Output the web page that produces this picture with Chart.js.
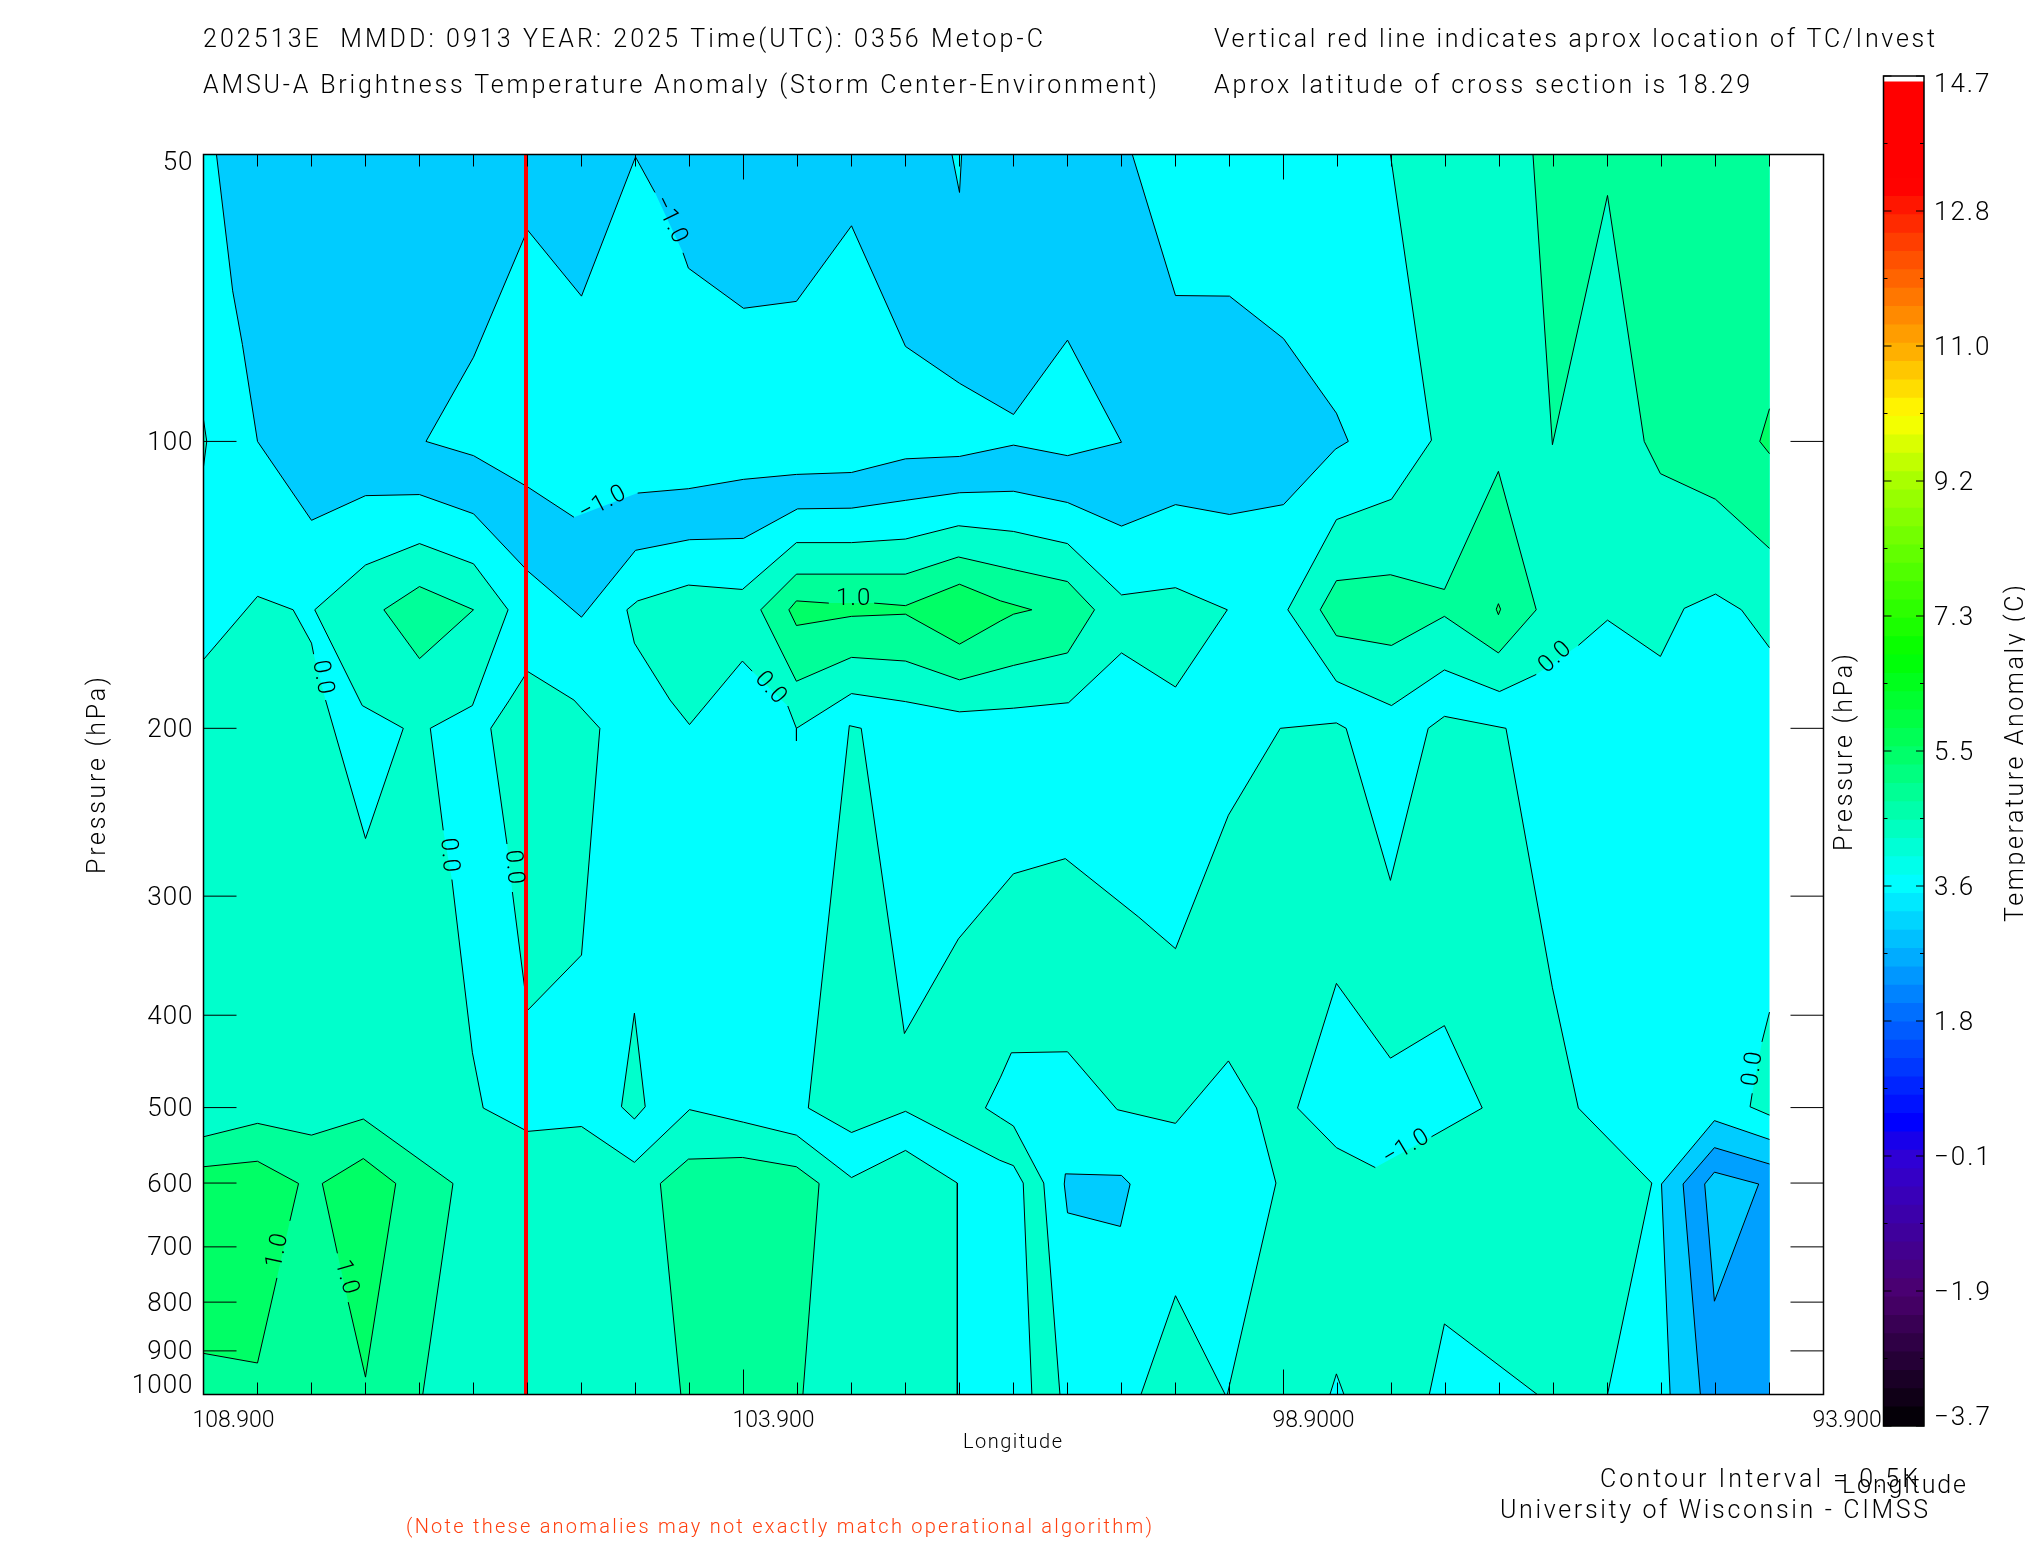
<!DOCTYPE html>
<html>
<head>
<meta charset="utf-8">
<title>AMSU-A Brightness Temperature Anomaly</title>
<script src="https://cdn.jsdelivr.net/npm/chart.js@4/dist/chart.umd.min.js"></script>
<style>
  html, body { margin: 0; padding: 0; background: #fff; }
  #wrap { position: relative; width: 2025px; height: 1550px; overflow: hidden; }
  canvas { position: absolute; left: 0; top: 0; }
</style>
</head>
<body>
<div id="wrap">
  <canvas id="section" width="2025" height="1550"></canvas>
  <canvas id="scalebar" width="2025" height="1550"></canvas>
</div>
<script>
// axes
const lonTicks = [108.9, 108.4, 107.9, 107.4, 106.9, 106.4, 105.9, 105.4, 104.9, 104.4, 103.9, 103.4, 102.9, 102.4, 101.9, 101.4,
  100.9, 100.4, 99.9, 99.4, 98.9, 98.4, 97.9, 97.4, 96.9, 96.4, 95.9, 95.4, 94.9, 94.4, 93.9];
const lonMajor = [108.9, 103.9, 98.9, 93.9];
const lonMajorLabels = ['108.900', '103.900', '98.9000', '93.900'];
const pressureTicks = [50, 100, 200, 300, 400, 500, 600, 700, 800, 900, 1000];
const stormLon = 105.914;

// contours, [longitude, hPa]
const fullSection = [[108.9, 50], [94.4, 50], [94.4, 1000], [108.9, 1000]];
const blueTop = [[108.78, 50], [108.63, 69.5], [108.54, 79.1], [108.4, 100], [107.9, 121], [107.4, 114], [106.9, 113.7], [106.4, 119.1],
  [105.9, 136.7], [105.4, 152.9], [104.9, 130.1], [104.4, 126.8], [103.9, 126.4], [103.4, 117.7], [102.9, 117.5], [102.4, 115.3],
  [101.9, 113.2], [101.4, 112.8], [100.9, 115.9], [100.4, 122.7], [99.9, 116.5], [99.4, 119.3], [98.9, 116.5], [98.42, 101.9],
  [98.3, 100], [98.41, 93.4], [98.9, 78], [99.4, 70.4], [99.9, 70.3], [100.3, 50]];
const upperHole = [[106.84, 100], [106.4, 103.5], [105.9, 111.6], [105.47, 120.1], [104.88, 113.3], [104.41, 112.1], [103.9, 109.6],
  [103.41, 108.3], [102.9, 107.8], [102.4, 104.3], [101.9, 103.7], [101.4, 100.9], [100.9, 103.5], [100.4, 100.2], [100.9, 78.3],
  [101.4, 93.7], [101.9, 86.9], [102.4, 79.5], [102.9, 59.4], [103.41, 71.3], [103.9, 72.5], [104.41, 65.8], [104.46, 63.4],
  [104.72, 54.8], [104.9, 50.3], [105.4, 70.4], [105.9, 60], [106.4, 81.6]];
const topSliver = [[101.97, 50], [101.9, 54.8], [101.88, 50]];
const leftSliver = [[108.9, 94.9], [108.87, 100], [108.9, 106.3]];
const leftWarm = [[108.9, 169.4], [108.4, 145.4], [108.07, 150.2], [107.9, 162.8], [107.88, 167.2], [107.77, 186.8], [107.4, 261],
  [107.05, 200], [107.43, 189.3], [107.87, 150.2], [107.4, 134.8], [106.9, 128], [106.4, 134.4], [106.08, 150.2], [106.41, 189.3],
  [106.8, 200], [106.68, 255.9], [106.6, 288.2], [106.41, 438], [106.31, 500.5], [105.9, 529.6], [105.4, 523.4], [104.91, 570.7],
  [104.4, 502.5], [103.9, 518], [103.41, 534.4], [102.9, 592.1], [102.4, 554.5], [101.92, 600], [101.92, 1000], [108.9, 1000]];
const stormTongue = [[105.9, 174.3], [106.07, 187], [106.24, 200], [106.09, 264.5], [106.04, 297], [105.93, 371.8], [105.9, 395.4],
  [105.4, 345.9], [105.23, 200], [105.47, 186.8]];
const leftDiamond = [[107.23, 150.2], [106.9, 142], [106.4, 150.2], [106.9, 169]];
const midOuter = [[104.98, 150.2], [104.88, 147], [104.41, 141.5], [103.91, 143], [103.41, 127.7], [102.9, 127.7], [102.4, 126.6],
  [101.91, 122.6], [101.4, 124.3], [100.9, 128], [100.4, 144.9], [99.9, 142.4], [99.42, 150.2], [99.9, 181], [100.4, 166.7],
  [100.89, 188], [101.4, 190.5], [101.9, 192.2], [102.4, 187.5], [102.9, 183.9], [103.41, 200], [103.41, 206.2], [103.41, 200],
  [103.49, 189.5], [103.82, 174.2], [103.91, 170], [104.4, 198.2], [104.58, 186.8], [104.91, 162.8]];
const midMiddle = [[103.74, 150.2], [103.41, 137.8], [102.4, 137.8], [101.91, 132.2], [101.4, 136.3], [100.9, 140.3], [100.65, 150.2],
  [100.9, 166.7], [101.4, 171.8], [101.9, 177.9], [102.4, 170], [102.9, 168.5], [103.41, 178.5]];
const midInner = [[103.48, 150.2], [103.41, 147], [103.11, 147.8], [102.69, 147.8], [102.4, 148.7], [101.9, 141.2], [101.52, 147],
  [101.23, 150.2], [101.4, 151.8], [101.52, 154.3], [101.9, 163.2], [102.4, 151.8], [102.9, 152.6], [103.41, 156]];
const upperRight = [[97.91, 50], [97.53, 99.7], [97.9, 115], [98.41, 120.8], [98.86, 150.2], [98.41, 178.5], [97.9, 189.3], [97.41, 173.7],
  [96.9, 183], [96.56, 175.6], [96.17, 163.7], [95.9, 154], [95.41, 168.1], [95.19, 149.7], [94.9, 144.6], [94.66, 150.2],
  [94.4, 164.6], [94.4, 50]];
const upperRightWarm = [[96.59, 50], [96.41, 100.8], [95.9, 55.2], [95.56, 100], [95.41, 108.1], [94.9, 115], [94.4, 129.5], [94.4, 50]];
const upperRightEdge = [[94.4, 92.4], [94.49, 100], [94.4, 103]];
const rightIsland = [[98.56, 150.2], [98.41, 140], [97.91, 138], [97.41, 143], [96.91, 107.5], [96.56, 150.2], [96.91, 166.7],
  [97.41, 152.6], [97.9, 163.7], [98.41, 159.9]];
const rightIslandDot = [[96.93, 150], [96.91, 148], [96.89, 150], [96.91, 152]];
const rightEdgeWarm = [[94.4, 397], [94.47, 426.6], [94.56, 483], [94.58, 499], [94.4, 509.2]];
const lowerMid = [[103.3, 500.5], [102.9, 531], [102.4, 504.5], [101.9, 540], [101.53, 567.7], [101.4, 575.3], [101.31, 600], [101.23, 1000],
  [100.97, 1000], [101.12, 600], [101.4, 522.8], [101.52, 512.5], [101.66, 500.5], [101.52, 464.6], [101.42, 438], [100.9, 436.9],
  [100.44, 502.5], [99.9, 519.4], [99.41, 446.7], [99.15, 500.5], [98.97, 600], [99.42, 1000], [95.9, 1000], [95.49, 600],
  [96.17, 500.5], [96.41, 374.3], [96.84, 200], [97.41, 194.3], [97.56, 200], [97.91, 288.8], [98.32, 200], [98.41, 197.4],
  [98.93, 200], [99.41, 246.7], [99.9, 340.6], [100.24, 315.6], [100.92, 274], [101.4, 284.2], [101.91, 332.6], [102.41, 418.1],
  [102.81, 200], [102.92, 198.7]];
const lowerHole = [[98.77, 500.5], [98.41, 370.4], [97.91, 443.7], [97.41, 410.2], [97.06, 500.5], [97.53, 536.5], [98.05, 578], [98.41, 550.8]];
const bottomCutA = [[97.55, 1000], [97.41, 843.3], [96.55, 1000]];
const bottomCutB = [[98.47, 1000], [98.41, 951.4], [98.34, 1000]];
const bottomHill = [[100.22, 1000], [99.9, 787.7], [99.44, 1000]];
const coldPatch = [[100.92, 586.8], [100.4, 589], [100.32, 601.4], [100.41, 666.3], [100.9, 644.7], [100.93, 601.4]];
const coldOuter = [[95.32, 1000], [95.4, 601.4], [94.91, 516], [94.4, 540], [94.4, 1000]];
const coldMiddle = [[95.04, 1000], [95.2, 601.4], [94.91, 550.8], [94.4, 573], [94.4, 1000]];
const coldInner = [[95, 601.4], [94.91, 584.4], [94.5, 601.4], [94.91, 798.2]];
const lowLeftOuter = [[108.9, 536.5], [108.4, 519.4], [107.9, 534.4], [107.42, 514], [106.59, 600.6], [106.87, 1000], [108.9, 1000]];
const lowLeftA = [[108.9, 576.8], [108.4, 569.2], [108.02, 600.6], [108.1, 657.4], [108.22, 754.5], [108.4, 926.7], [108.9, 905.4]];
const lowLeftB = [[107.8, 600.6], [107.42, 565.5], [107.12, 600.6], [107.4, 958.9], [107.56, 800], [107.66, 711]];
const lowCentre = [[104.67, 600.6], [104.41, 566.3], [103.91, 564], [103.41, 576.8], [103.2, 600.6], [103.35, 1000], [104.48, 1000]];
const smallIsland = [[105.03, 499], [104.91, 398], [104.81, 499], [104.91, 514]];

// contour labels, gapFrom is the vertex where the line breaks for the text
const contourLabels = [
  { text: '\u22121.0', lon: 104.58, hPa: 58.6, angle: 64, gapFrom: [104.46, 63.4] },
  { text: '\u22121.0', lon: 105.2, hPa: 116.2, angle: -28, gapFrom: [105.47, 120.1] },
  { text: '1.0', lon: 102.88, hPa: 146.4, angle: 0, gapFrom: [103.11, 147.8] },
  { text: '0.0', lon: 107.8, hPa: 177, angle: 80, gapFrom: [107.88, 167.2] },
  { text: '0.0', lon: 106.63, hPa: 272, angle: 85, gapFrom: [106.68, 255.9] },
  { text: '0.0', lon: 106.03, hPa: 280, angle: 85, gapFrom: [106.09, 264.5] },
  { text: '0.0', lon: 103.65, hPa: 181.6, angle: 48, gapFrom: [103.49, 189.5] },
  { text: '0.0', lon: 96.38, hPa: 168.5, angle: -42, gapFrom: [96.56, 175.6] },
  { text: '0.0', lon: 94.55, hPa: 455, angle: -82, gapFrom: [94.47, 426.6] },
  { text: '\u22121.0', lon: 97.76, hPa: 551, angle: -31, gapFrom: [97.53, 536.5] },
  { text: '1.0', lon: 108.21, hPa: 706, angle: -78, gapFrom: [108.1, 657.4] },
  { text: '1.0', lon: 107.58, hPa: 754, angle: 74, gapFrom: [107.56, 800] },
];

// colour bar
const barTicks = [14.7, 12.86, 11.02, 9.18, 7.34, 5.5, 3.66, 1.82, -0.02, -1.86, -3.7];
const barTickLabels = ['14.7', '12.8', '11.0', '9.2', '7.3', '5.5', '3.6', '1.8', '\u22120.1', '\u22121.9', '\u22123.7'];
const barStops = [-3.7, -1.9, -0.1, 0.43, 1.8, 3.7, 5.5, 6.8, 9.2, 10.05, 11, 12.2, 13.2, 14.62];
const barColors = [[0, 0, 0], [75, 0, 110], [50, 0, 210], [0, 0, 255], [0, 100, 255], [0, 255, 255], [0, 255, 100], [0, 255, 0],
  [170, 255, 0], [255, 255, 0], [255, 170, 0], [255, 80, 0], [255, 0, 0], [255, 0, 0]];

const cyan = '#00ffff', sky = '#00ccff', azure = '#00a0ff', aqua = '#00ffcc', mint = '#00ff99', green = '#00ff66';

// painted in this order, later ones on top
const layers = [
  [fullSection, cyan], [blueTop, sky], [upperHole, cyan], [topSliver, cyan], [leftSliver, aqua],
  [leftWarm, aqua], [stormTongue, aqua], [leftDiamond, mint],
  [midOuter, aqua], [midMiddle, mint], [midInner, green],
  [upperRight, aqua], [upperRightWarm, mint], [upperRightEdge, green], [rightIsland, mint], [rightIslandDot, green],
  [rightEdgeWarm, aqua], [lowerMid, aqua], [lowerHole, cyan], [bottomCutA, cyan], [bottomCutB, cyan], [bottomHill, aqua],
  [coldPatch, sky], [coldOuter, sky], [coldMiddle, azure], [coldInner, sky],
  [lowLeftOuter, mint], [lowLeftA, green], [lowLeftB, green], [lowCentre, mint], [smallIsland, aqua],
];

const textFont = '"Roboto"';

function isGap(p0, p1) {
  const same = (a, b) => Math.abs(a - b) < 0.001;
  if (same(p0.x, p1.x) && (same(p0.x, 94.4) || same(p0.x, 108.9))) return true;
  if (same(p0.y, p1.y) && (same(p0.y, 50) || same(p0.y, 1000))) return true;
  return contourLabels.some(l => same(l.gapFrom[0], p0.x) && same(l.gapFrom[1], p0.y));
}

// one dataset for the band colour and one for its contour line,
// a line split into styled segments would fill each piece on its own
function contourDatasets([points, color]) {
  const closed = points.concat([points[0]]).map(([x, y]) => ({ x, y }));
  return [
    { data: closed, showLine: true, fill: 'shape', backgroundColor: color, borderWidth: 0, pointRadius: 0 },
    {
      data: closed,
      showLine: true,
      fill: false,
      borderColor: '#000',
      borderWidth: 1,
      borderJoinStyle: 'round',
      pointRadius: 0,
      segment: {
        borderColor: ctx => isGap(ctx.p0.parsed, ctx.p1.parsed) ? 'transparent' : undefined,
      },
    },
  ];
}

const stormLine = {
  data: [{ x: stormLon, y: 50 }, { x: stormLon, y: 1000 }],
  showLine: true,
  fill: false,
  borderColor: '#ff0000',
  borderWidth: 4,
  pointRadius: 0,
};

// text squeezed or spread to the width it has in the picture
function spacedText(ctx, text, x, y, width, size, color, rotate) {
  ctx.save();
  ctx.font = '300 ' + size + 'px ' + textFont;
  ctx.fillStyle = color || '#000';
  ctx.textBaseline = 'alphabetic';
  ctx.textAlign = 'left';
  ctx.letterSpacing = '0px';
  const natural = ctx.measureText(text).width;
  ctx.letterSpacing = ((width - natural) / (text.length - 1)) + 'px';
  ctx.translate(x, y);
  if (rotate) ctx.rotate(-Math.PI / 2);
  ctx.fillText(text, 0, 0);
  ctx.restore();
}

const sectionDecor = {
  id: 'sectionDecor',
  afterDatasetsDraw(chart) {
    const { ctx, chartArea: a, scales: { x, y } } = chart;
    ctx.save();
    ctx.strokeStyle = '#000';
    ctx.lineWidth = 1;
    ctx.beginPath();
    lonTicks.forEach(lon => {
      const px = x.getPixelForValue(lon);
      const len = lonMajor.includes(lon) ? 25 : 12;
      ctx.moveTo(px, a.top); ctx.lineTo(px, a.top + len);
      ctx.moveTo(px, a.bottom); ctx.lineTo(px, a.bottom - len);
    });
    pressureTicks.slice(1, -1).forEach(p => {
      const py = y.getPixelForValue(p);
      ctx.moveTo(a.left, py); ctx.lineTo(a.left + 33, py);
      ctx.moveTo(a.right, py); ctx.lineTo(a.right - 33, py);
    });
    ctx.stroke();
    ctx.lineWidth = 1.5;
    ctx.strokeRect(a.left, a.top, a.right - a.left, a.bottom - a.top);
    ctx.restore();

    contourLabels.forEach(l => {
      ctx.save();
      ctx.translate(x.getPixelForValue(l.lon), y.getPixelForValue(l.hPa));
      ctx.rotate(l.angle * Math.PI / 180);
      ctx.font = '300 24px ' + textFont;
      ctx.fillStyle = '#000';
      ctx.textAlign = 'center';
      ctx.textBaseline = 'middle';
      ctx.letterSpacing = '1px';
      ctx.fillText(l.text, 0, 0);
      ctx.restore();
    });

    // pressure labels, the end ones sit inside the axis
    ctx.save();
    ctx.font = '300 26px ' + textFont;
    ctx.fillStyle = '#000';
    ctx.textAlign = 'right';
    ctx.textBaseline = 'middle';
    ctx.letterSpacing = '1px';
    pressureTicks.forEach((p, i) => {
      const shift = i === 0 ? 9 : i === pressureTicks.length - 1 ? -8 : 2;
      ctx.fillText(String(p), a.left - 10, y.getPixelForValue(p) + shift);
    });
    ctx.restore();

    spacedText(ctx, '202513E  MMDD: 0913 YEAR: 2025 Time(UTC): 0356 Metop-C', 203, 47, 840, 25);
    spacedText(ctx, 'AMSU-A Brightness Temperature Anomaly (Storm Center-Environment)', 203, 93, 954, 25);
    spacedText(ctx, 'Vertical red line indicates aprox location of TC/Invest', 1214, 47, 721, 25);
    spacedText(ctx, 'Aprox latitude of cross section is 18.29', 1214, 93, 536, 25);
    spacedText(ctx, 'Longitude', 963, 1448, 99, 20);
    spacedText(ctx, 'Pressure (hPa)', 105, 874, 197, 25, '#000', true);
    spacedText(ctx, 'Pressure (hPa)', 1852, 851, 197, 25, '#000', true);
    spacedText(ctx, 'Temperature Anomaly (C)', 2023, 922, 337, 25, '#000', true);
    spacedText(ctx, 'Contour Interval = 0.5K', 1600, 1487, 318, 25);
    spacedText(ctx, 'Longitude', 1842, 1493, 124, 25);
    spacedText(ctx, 'University of Wisconsin - CIMSS', 1500, 1518, 428, 25);
    spacedText(ctx, '(Note these anomalies may not exactly match operational algorithm)', 406, 1533, 746, 20, '#ff4010');
  },
};

new Chart(document.getElementById('section'), {
  type: 'scatter',
  data: { datasets: [stormLine].concat(layers.flatMap(contourDatasets).reverse()) },
  options: {
    responsive: false,
    animation: false,
    events: [],
    layout: { padding: { left: 0, top: 154.5, right: 201.5, bottom: 0 } },
    plugins: { legend: { display: false }, tooltip: { enabled: false }, filler: { drawTime: 'beforeDatasetDraw' } },
    scales: {
      x: {
        type: 'linear',
        reverse: true,
        min: 93.9,
        max: 108.9,
        border: { display: false },
        grid: { display: false },
        afterBuildTicks: axis => { axis.ticks = lonMajor.map(value => ({ value })); },
        afterFit: axis => { axis.height = 155.5; },
        ticks: {
          autoSkip: false,
          maxRotation: 0,
          align: 'start',
          labelOffset: -11,
          padding: 5,
          color: '#000',
          font: { family: textFont, size: 23, weight: 300 },
          callback: (v, i) => lonMajorLabels[i],
        },
      },
      y: {
        type: 'logarithmic',
        reverse: true,
        min: 50,
        max: 1000,
        border: { display: false },
        grid: { display: false },
        afterBuildTicks: axis => { axis.ticks = pressureTicks.map(value => ({ value })); },
        afterFit: axis => { axis.width = 203.5; },
        ticks: { display: false },
      },
    },
  },
  plugins: [sectionDecor],
});

// colour bar bars between the values, quarter degree steps
function rampColor(v) {
  let i = 0;
  while (i < barStops.length - 2 && v > barStops[i + 1]) i++;
  const f = Math.min(1, (v - barStops[i]) / (barStops[i + 1] - barStops[i]));
  const c = barColors[i].map((ch, k) => Math.round(ch + (barColors[i + 1][k] - ch) * f));
  return 'rgb(' + c.join(',') + ')';
}

const barSteps = [];
for (let lo = -3.7; lo < 14.62; lo += 0.25) barSteps.push([lo, Math.min(lo + 0.26, 14.62)]);

const barDecor = {
  id: 'barDecor',
  afterDatasetsDraw(chart) {
    const { ctx, chartArea: a, scales: { y } } = chart;
    ctx.save();
    ctx.strokeStyle = '#000';
    ctx.lineWidth = 1;
    ctx.beginPath();
    barTicks.forEach((v, i) => {
      const py = y.getPixelForValue(v);
      ctx.moveTo(a.left, py); ctx.lineTo(a.left + 8, py);
      ctx.moveTo(a.right, py); ctx.lineTo(a.right - 8, py);
      if (i < barTicks.length - 1) {
        const mid = y.getPixelForValue((v + barTicks[i + 1]) / 2);
        ctx.moveTo(a.left, mid); ctx.lineTo(a.left + 4, mid);
        ctx.moveTo(a.right, mid); ctx.lineTo(a.right - 4, mid);
      }
    });
    ctx.stroke();
    ctx.lineWidth = 1.5;
    ctx.strokeRect(a.left, a.top, a.right - a.left, a.bottom - a.top);
    ctx.restore();

    ctx.save();
    ctx.font = '300 26px ' + textFont;
    ctx.fillStyle = '#000';
    ctx.textAlign = 'left';
    ctx.textBaseline = 'middle';
    ctx.letterSpacing = '2px';
    barTicks.forEach((v, i) => {
      const shift = i === 0 ? 9 : i === barTicks.length - 1 ? -8 : 2;
      ctx.fillText(barTickLabels[i], a.right + 10, y.getPixelForValue(v) + shift);
    });
    ctx.restore();
  },
};

new Chart(document.getElementById('scalebar'), {
  type: 'bar',
  data: {
    labels: ['scale'],
    datasets: barSteps.map(step => ({
      data: [step],
      backgroundColor: rampColor((step[0] + step[1]) / 2),
      barPercentage: 1,
      categoryPercentage: 1,
      grouped: false,
    })),
  },
  options: {
    responsive: false,
    animation: false,
    events: [],
    layout: { padding: { left: 1883.5, top: 76, right: 0, bottom: 124 } },
    plugins: { legend: { display: false }, tooltip: { enabled: false } },
    scales: {
      x: { display: false },
      y: {
        position: 'right',
        min: -3.7,
        max: 14.7,
        border: { display: false },
        grid: { display: false },
        afterBuildTicks: axis => { axis.ticks = barTicks.map(value => ({ value })); },
        afterFit: axis => { axis.width = 101; },
        ticks: { display: false },
      },
    },
  },
  plugins: [barDecor],
});
</script>
</body>
</html>
